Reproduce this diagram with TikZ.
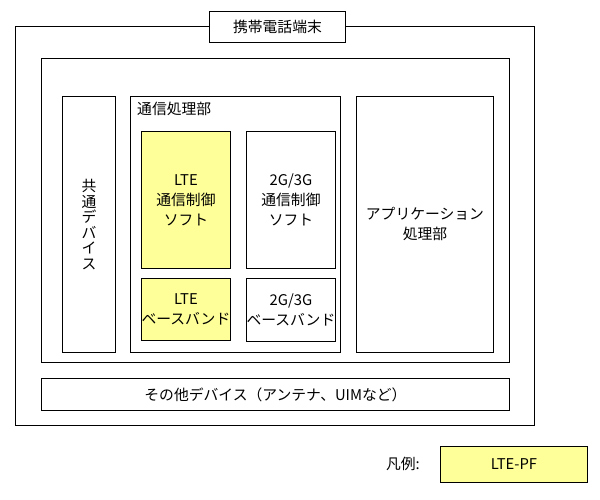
\documentclass[tikz,border=0pt]{standalone}
\usepackage{fontspec}
\setmainfont{Noto Sans CJK JP}
\begin{document}
\begin{tikzpicture}[x=1pt,y=-1pt,
  blk/.style={draw,line width=0.9pt,anchor=north west,align=center,inner sep=0pt,font=\fontsize{14.8}{20}\selectfont}]
\definecolor{ltepf}{HTML}{FFFF99}
\useasboundingbox (0,0) rectangle (600,500);
\node [blk,minimum width=519,minimum height=399] (tanmatsu) at (15,26) {};
\node [blk,fill=white,minimum width=136,minimum height=31] (title) at (209,11) {携帯電話端末};
\node [blk,minimum width=468,minimum height=304] (kyotai) at (41,58) {};
\node [blk,minimum width=53,minimum height=256,font=\fontsize{14.8}{15.5}\selectfont] (kyotsu) at (62,96) {共\\通\\デ\\バ\\イ\\ス};
\node [blk,minimum width=210,minimum height=256,
  label={[anchor=north west,inner sep=0pt,xshift=7pt,yshift=-6pt,font=\fontsize{14.8}{20}\selectfont]north west:通信処理部}] (tsushin) at (130,96) {};
  \foreach \nm/\xx/\yy/\hh/\clr/\txt in {ltesoft/141/131/137/ltepf/{LTE\\通信制御\\ソフト},
    soft23/246/131/137/white/{2G/3G\\通信制御\\ソフト},
    lteband/141/278/62/ltepf/{LTE\\ベースバンド},
    band23/246/278/63/white/{2G/3G\\ベースバンド}}
  {  \node [blk,fill=\clr,minimum width=89,minimum height=\hh] (\nm) at (\xx,\yy) {\txt};}
\node [blk,minimum width=137,minimum height=256] (app) at (356,96) {アプリケーション\\処理部};
\node [blk,minimum width=468,minimum height=32] (sonota) at (41,378) {その他デバイス（アンテナ、UIMなど）};
\node [font=\fontsize{14.8}{20}\selectfont] (hanrei) at (403,464) {凡例:};
\node [blk,fill=ltepf,minimum width=147,minimum height=36] (legend) at (440,446) {LTE-PF};
\end{tikzpicture}
\end{document}
